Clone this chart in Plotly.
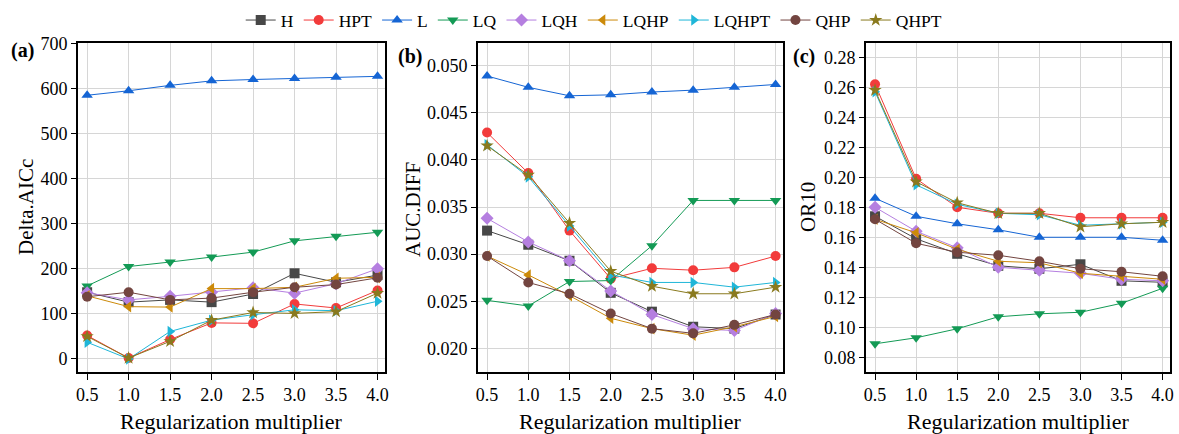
import plotly.graph_objects as go

x_vals = [0.5, 1.0, 1.5, 2.0, 2.5, 3.0, 3.5, 4.0]
series_names = ["H", "HPT", "L", "LQ", "LQH", "LQHP", "LQHPT", "QHP", "QHPT"]

delta_aicc = {
    "H":     [148, 126, 131, 126, 144, 190, 170, 186],
    "HPT":   [52, 2, 43, 80, 79, 122, 113, 152],
    "L":     [585, 595, 607, 617, 620, 622, 625, 627],
    "LQ":    [162, 205, 215, 226, 237, 262, 272, 281],
    "LQH":   [147, 131, 139, 148, 158, 146, 167, 200],
    "LQHP":  [140, 116, 115, 156, 156, 159, 179, 181],
    "LQHPT": [37, 0, 61, 86, 98, 109, 107, 128],
    "QHP":   [138, 148, 131, 135, 148, 159, 165, 180],
    "QHPT":  [50, 2, 39, 86, 103, 101, 105, 146],
}

auc_diff = {
    "H":     [0.0325, 0.0310, 0.0293, 0.0259, 0.0239, 0.0223, 0.0221, 0.0236],
    "HPT":   [0.0429, 0.0386, 0.0325, 0.0274, 0.0285, 0.0283, 0.0286, 0.0298],
    "L":     [0.0489, 0.0477, 0.0468, 0.0469, 0.0472, 0.0474, 0.0477, 0.0480],
    "LQ":    [0.0251, 0.0245, 0.0271, 0.0272, 0.0309, 0.0357, 0.0357, 0.0357],
    "LQH":   [0.0338, 0.0313, 0.0293, 0.0261, 0.0236, 0.0221, 0.0219, 0.0237],
    "LQHP":  [0.0298, 0.0278, 0.0256, 0.0232, 0.0221, 0.0214, 0.0223, 0.0234],
    "LQHPT": [0.0416, 0.0382, 0.0330, 0.0278, 0.0270, 0.0270, 0.0265, 0.0270],
    "QHP":   [0.0298, 0.0270, 0.0258, 0.0237, 0.0221, 0.0216, 0.0225, 0.0236],
    "QHPT":  [0.0415, 0.0384, 0.0333, 0.0282, 0.0266, 0.0258, 0.0258, 0.0265],
}

or10 = {
    "H":     [0.174, 0.159, 0.149, 0.141, 0.139, 0.142, 0.131, 0.130],
    "HPT":   [0.262, 0.199, 0.180, 0.176, 0.176, 0.173, 0.173, 0.173],
    "L":     [0.186, 0.174, 0.169, 0.165, 0.160, 0.160, 0.160, 0.158],
    "LQ":    [0.089, 0.093, 0.099, 0.107, 0.109, 0.110, 0.116, 0.126],
    "LQH":   [0.180, 0.164, 0.153, 0.140, 0.138, 0.136, 0.132, 0.131],
    "LQHP":  [0.172, 0.163, 0.152, 0.144, 0.143, 0.136, 0.134, 0.132],
    "LQHPT": [0.257, 0.195, 0.182, 0.176, 0.175, 0.168, 0.169, 0.170],
    "QHP":   [0.172, 0.156, 0.150, 0.148, 0.144, 0.139, 0.137, 0.134],
    "QHPT":  [0.258, 0.197, 0.183, 0.176, 0.176, 0.167, 0.169, 0.170],
}

colors = {
    "H": "#474747", "HPT": "#f23b3b", "L": "#1565d4", "LQ": "#139a55",
    "LQH": "#b57fe0", "LQHP": "#cc8a0a", "LQHPT": "#1fb6d8", "QHP": "#734540",
    "QHPT": "#8a7a1e",
}
symbols = {
    "H": "square", "HPT": "circle", "L": "triangle-up", "LQ": "triangle-down",
    "LQH": "diamond", "LQHP": "triangle-left", "LQHPT": "triangle-right",
    "QHP": "circle", "QHPT": "star",
}

FONT = "Liberation Serif"
fig = go.Figure()

panels = [(delta_aicc, "x", "y"), (auc_diff, "x2", "y2"), (or10, "x3", "y3")]
for pi, (data, xa, ya) in enumerate(panels):
    for name in series_names:
        fig.add_trace(go.Scatter(
            x=x_vals, y=data[name], name=name, mode="lines+markers",
            legendgroup=name, showlegend=(pi == 0),
            line=dict(color=colors[name], width=1),
            marker=dict(symbol=symbols[name], size=10, color=colors[name]),
            xaxis=xa, yaxis=ya,
        ))

W, H = 1179, 434
def px_x(v):
    return v / W
def px_y(v):
    return 1 - v / H

xdoms = [(78, 385), (478, 783), (866, 1170)]
ydom = [px_y(372), px_y(43)]

common_x = dict(
    range=[0.39, 4.09], tickmode="array", tickvals=x_vals,
    ticktext=[f"{v:.1f}" for v in x_vals],
    showline=True, linecolor="black", linewidth=1.6, mirror=True,
    ticks="outside", ticklen=6, tickcolor="black",
    showgrid=True, gridcolor="#d6d6d6", gridwidth=1, zeroline=False,
    tickfont=dict(family=FONT, size=18, color="black"),
)
common_y = dict(
    showline=True, linecolor="black", linewidth=1.6, mirror=True,
    ticks="outside", ticklen=5, tickcolor="black",
    showgrid=True, gridcolor="#d6d6d6", gridwidth=1, zeroline=False,
    tickfont=dict(family=FONT, size=18, color="black"),
)

layout = dict(
    width=W, height=H, margin=dict(l=0, r=0, t=0, b=0, autoexpand=False),
    paper_bgcolor="white", plot_bgcolor="white",
    font=dict(family=FONT, color="black"),
    showlegend=True,
    legend=dict(orientation="h", x=0.504, xanchor="center", y=0.995, yanchor="top",
                font=dict(family=FONT, size=17.5, color="black"),
                bgcolor="rgba(0,0,0,0)", itemwidth=30, tracegroupgap=0),
)
for i, (l, r) in enumerate(xdoms):
    key = "" if i == 0 else str(i + 1)
    layout["xaxis" + key] = dict(common_x, domain=[px_x(l), px_x(r)], anchor="y" + key)
layout["yaxis"] = dict(common_y, domain=ydom, anchor="x", range=[-29, 701],
                       tickvals=[0, 100, 200, 300, 400, 500, 600, 700])
layout["yaxis2"] = dict(common_y, domain=ydom, anchor="x2", range=[0.0175, 0.0524],
                        tickvals=[0.020, 0.025, 0.030, 0.035, 0.040, 0.045, 0.050],
                        tickformat=".3f")
layout["yaxis3"] = dict(common_y, domain=ydom, anchor="x3", range=[0.0702, 0.2895],
                        tickvals=[0.08, 0.10, 0.12, 0.14, 0.16, 0.18, 0.20, 0.22, 0.24, 0.26, 0.28],
                        tickformat=".2f")
fig.update_layout(**layout)

annos = []
def anno(text, cx, cy, size, angle=0):
    return dict(text=text, x=px_x(cx), y=px_y(cy), xref="paper", yref="paper",
                xanchor="center", yanchor="middle", textangle=angle,
                showarrow=False, font=dict(family=FONT, size=size, color="black"))
# panel labels
for txt, cx, cy in [("(a)", 22, 50), ("(b)", 410, 56), ("(c)", 804, 56)]:
    annos.append(anno(f"<b>{txt}</b>", cx, cy, 20))
# y titles
for txt, cx, cy in [("Delta.AICc", 26, 207), ("AUC.DIFF", 413, 210), ("OR10", 808, 207)]:
    annos.append(anno(txt, cx, cy, 21, -90))
# x titles
for cx in [231, 630, 1018]:
    annos.append(anno("Regularization multiplier", cx, 421, 22))
fig.update_layout(annotations=annos)

fig.write_html("out.html", config={"displayModeBar": False},
               post_script="document.body.style.margin='0';document.body.style.overflow='hidden';")
